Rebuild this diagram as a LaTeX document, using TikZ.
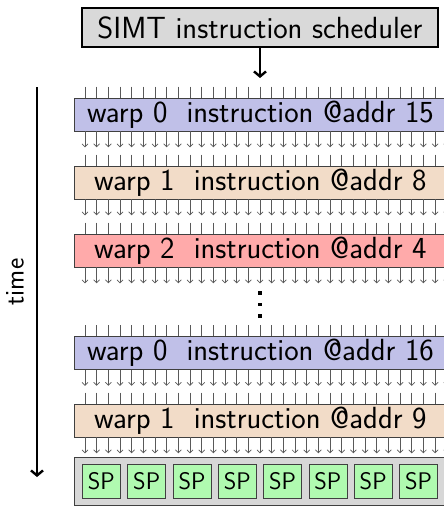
\documentclass[tikz,border=0pt]{standalone}
\usepackage{fontspec}
\usetikzlibrary{arrows.meta,calc}
\definecolor{schedgray}{RGB}{217,217,217}
\definecolor{warpblue}{RGB}{192,192,232}
\definecolor{warptan}{RGB}{242,220,200}
\definecolor{warppink}{RGB}{255,170,170}
\definecolor{spgreen}{RGB}{176,250,176}
\definecolor{contgray}{RGB}{215,215,215}
\begin{document}
\begin{tikzpicture}[x=1pt,y=-1pt,
  every node/.style={font=\fontsize{30.6}{32}\selectfont\sffamily, inner sep=0pt},
  schedbox/.style={draw=black, line width=1.4pt, fill=schedgray, minimum width=356pt, minimum height=39pt},
  warpbox/.style={draw=black!75, line width=0.8pt, minimum width=372pt, minimum height=33pt, anchor=north west},
  contbox/.style={draw=black!75, line width=0.8pt, fill=contgray, minimum width=372pt, minimum height=48pt, anchor=north west},
  spbox/.style={draw=black!75, line width=0.8pt, fill=spgreen, minimum width=38pt, minimum height=34pt, anchor=north west, font=\fontsize{24}{26}\selectfont\sffamily},
  dotbox/.style={fill=black, minimum size=3.6pt},
  tickline/.style={draw=black!65, line width=0.7pt},
  tickarrow/.style={draw=black!65, line width=0.7pt, -{Straight Barb[length=3pt,width=6pt]}},
  bigarrow/.style={draw=black, line width=2.4pt, -{Straight Barb[length=5pt,width=12pt]}},
]
\clip (0,0) rectangle (444,506);
\node[schedbox] (sched) at (260,27.5) {SIMT instruction scheduler};
\coordinate (schedend) at (260,78);
\draw[bigarrow] (sched.south) -- (schedend);

\node[warpbox, fill=warpblue] (w0) at (74,97.5) {warp 0\ \ instruction @addr 15};
\node[warpbox, fill=warptan]  (w1) at (74,165.5) {warp 1\ \ instruction @addr 8};
\node[warpbox, fill=warppink] (w2) at (74,233.5) {warp 2\ \ instruction @addr 4};
\node[warpbox, fill=warpblue] (w3) at (74,336) {warp 0\ \ instruction @addr 16};
\node[warpbox, fill=warptan]  (w4) at (74,403.5) {warp 1\ \ instruction @addr 9};

\foreach \b in {w0,w1,w2,w3,w4} {
  \foreach \i in {0,...,31} {
    \draw[tickline] ($(\b.north west)+(11+11.67*\i,-11)$) -- ($(\b.north west)+(11+11.67*\i,0)$);
    \draw[tickarrow] ($(\b.south west)+(11+11.67*\i,0)$) -- ($(\b.south west)+(11+11.67*\i,16)$);
  }
}

\node[dotbox] (d1) at (260,293) {};
\node[dotbox] (d2) at (260,304.5) {};
\node[dotbox] (d3) at (260,316) {};

\node[contbox] (cont) at (74,457) {};
\foreach \k in {0,...,7} {
  \node[spbox] (sp\k) at (82+45.3*\k,464) {SP};
}

\coordinate (tstart) at (37,87);
\coordinate (tend) at (37,477);
\draw[bigarrow] (tstart) -- (tend);
\node[rotate=90, font=\fontsize{27}{29}\selectfont\sffamily] (timelbl) at (15,282) {time};
\end{tikzpicture}
\end{document}
